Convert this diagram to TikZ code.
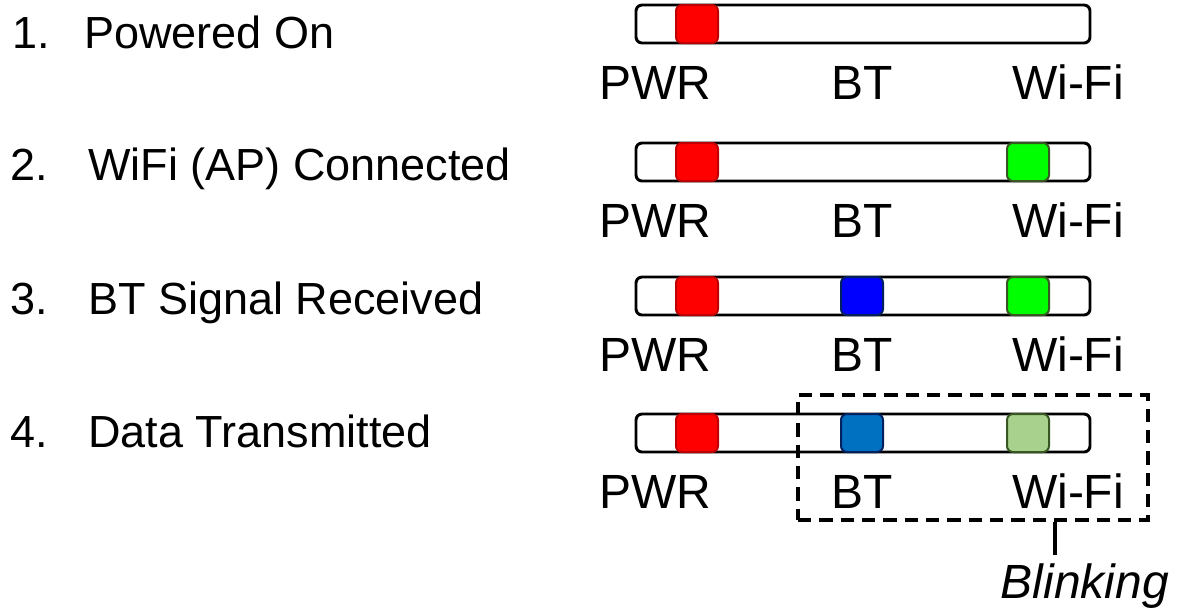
\documentclass[tikz,border=0pt]{standalone}
\usepackage{fontspec}
\setmainfont{Liberation Sans}
\begin{document}
\begin{tikzpicture}[x=0.75pt,y=-0.75pt,
  bar/.style={draw=black, line width=2.2pt, fill=white, rounded corners=4.5pt,
    minimum width=340.5pt, minimum height=28.5pt, inner sep=0pt},
  led/.style={line width=1.5pt, rounded corners=4.5pt,
    minimum width=31.5pt, minimum height=28.5pt, inner sep=0pt},
  ledred/.style={led, fill={rgb,255:red,255;green,0;blue,0}, draw={rgb,255:red,192;green,0;blue,0}},
  ledgreen/.style={led, fill={rgb,255:red,0;green,255;blue,0}, draw={rgb,255:red,56;green,87;blue,35}},
  ledblue/.style={led, fill={rgb,255:red,0;green,0;blue,255}, draw={rgb,255:red,0;green,32;blue,96}},
  ledbluedim/.style={led, fill={rgb,255:red,0;green,112;blue,192}, draw={rgb,255:red,0;green,32;blue,96}},
  ledgreendim/.style={led, fill={rgb,255:red,169;green,209;blue,142}, draw={rgb,255:red,56;green,87;blue,35}},
  lbl/.style={inner sep=0pt, anchor=base, font=\fontsize{36}{40}\selectfont},
  stepnum/.style={inner sep=0pt, anchor=base west, font=\fontsize{33.75}{38}\selectfont},
  steptext/.style={inner sep=0pt, anchor=base west, font=\fontsize{33.75}{38}\selectfont},
  groupbox/.style={draw=black, line width=3pt, dash pattern=on 10pt off 6pt,
    minimum width=262.5pt, minimum height=93.75pt, inner sep=0pt}
]
\useasboundingbox (0,0) rectangle (1177,612);

% step captions
\node[stepnum]  (n1) at (12,48)  {1.};
\node[steptext] (t1) at (84,48)  {Powered On};
\node[stepnum]  (n2) at (10,180) {2.};
\node[steptext] (t2) at (88,180) {WiFi (AP) Connected};
\node[stepnum]  (n3) at (10,314) {3.};
\node[steptext] (t3) at (88,314) {BT Signal Received};
\node[stepnum]  (n4) at (10,447) {4.};
\node[steptext] (t4) at (88,447) {Data Transmitted};

% LED strips
\foreach \r/\y in {1/24, 2/162, 3/296, 4/433} {
  \node[bar] (bar\r) at (863,\y) {};
  \node[lbl] (pwr\r)  at (655,\y+75) {PWR};
  \node[lbl] (bt\r)   at (862,\y+75) {BT};
  \node[lbl] (wifi\r) at (1068,\y+75) {Wi-Fi};
}

% lit LEDs
\node[ledred]   (r1) at (697,24) {};
\node[ledred]   (r2) at (697,162) {};
\node[ledgreen] (g2) at (1028,162) {};
\node[ledred]   (r3) at (697,296) {};
\node[ledblue]  (b3) at (862,296) {};
\node[ledgreen] (g3) at (1028,296) {};
\node[ledred]      (r4) at (697,433) {};
\node[ledbluedim]  (b4) at (862,433) {};
\node[ledgreendim] (g4) at (1028,433) {};

% blinking group
\node[groupbox] (grp) at (973,457.5) {};
\node[inner sep=0pt, anchor=base, font=\fontsize{36}{40}\selectfont\itshape] (blink) at (1085,598) {Blinking};
\coordinate (tip) at (1055,555);
\draw[line width=3pt] (grp.south -| tip) -- (tip);
\end{tikzpicture}
\end{document}
